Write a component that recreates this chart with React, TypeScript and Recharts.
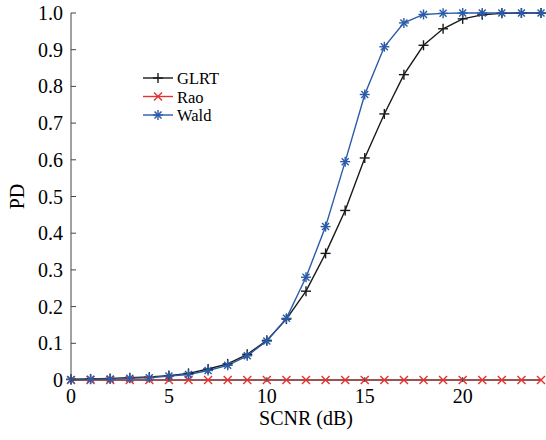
import React from "react";
import { LineChart, Line, XAxis, YAxis } from "recharts";

const snr = [0, 1, 2, 3, 4, 5, 6, 7, 8, 9, 10, 11, 12, 13, 14, 15, 16, 17, 18, 19, 20, 21, 22, 23, 24];
const glrt = [0.002, 0.003, 0.004, 0.006, 0.008, 0.012, 0.018, 0.03, 0.044, 0.07, 0.108, 0.166, 0.242, 0.345, 0.462, 0.605, 0.725, 0.832, 0.912, 0.957, 0.984, 0.995, 0.999, 1, 1];
const rao = [0, 0, 0, 0, 0, 0, 0, 0, 0, 0, 0, 0, 0, 0, 0, 0, 0, 0, 0, 0, 0, 0, 0, 0, 0];
const wald = [0.001, 0.002, 0.003, 0.005, 0.006, 0.011, 0.015, 0.026, 0.04, 0.066, 0.106, 0.168, 0.28, 0.418, 0.595, 0.778, 0.908, 0.973, 0.996, 0.999, 1, 1, 1, 1, 1];

const xTicks = [0, 5, 10, 15, 20];
const yTicks = [0, 0.1, 0.2, 0.3, 0.4, 0.5, 0.6, 0.7, 0.8, 0.9, 1.0];
const yTickLabels = ["0", "0.1", "0.2", "0.3", "0.4", "0.5", "0.6", "0.7", "0.8", "0.9", "1.0"];

const data = snr.map((x, i) => ({ snr: x, glrt: glrt[i], rao: rao[i], wald: wald[i] }));

const FONT = "Liberation Serif, Times New Roman, serif";
const BLACK = "#1a1a1a";
const RED = "#e8312f";
const BLUE = "#2a5ba8";
const FRAME = "#444";
const TICK = 5;

const Plus = ({ cx, cy, color, r = 5 }: any) => (
  <g stroke={color} strokeWidth={1.4}>
    <line x1={cx - r} y1={cy} x2={cx + r} y2={cy} />
    <line x1={cx} y1={cy - r} x2={cx} y2={cy + r} />
  </g>
);

const Cross = ({ cx, cy, color, r = 4 }: any) => (
  <g stroke={color} strokeWidth={1.4}>
    <line x1={cx - r} y1={cy - r} x2={cx + r} y2={cy + r} />
    <line x1={cx - r} y1={cy + r} x2={cx + r} y2={cy - r} />
  </g>
);

const Star = ({ cx, cy, color, r = 5 }: any) => (
  <g stroke={color} strokeWidth={1.4}>
    <line x1={cx - r} y1={cy} x2={cx + r} y2={cy} />
    <line x1={cx} y1={cy - r} x2={cx} y2={cy + r} />
    <line x1={cx - r * 0.7} y1={cy - r * 0.7} x2={cx + r * 0.7} y2={cy + r * 0.7} />
    <line x1={cx - r * 0.7} y1={cy + r * 0.7} x2={cx + r * 0.7} y2={cy - r * 0.7} />
  </g>
);

const txt = { fontFamily: FONT, fontSize: 20 };

const BottomTick = ({ x, y, payload }: any) => (
  <g>
    <line x1={x} y1={y - 8} x2={x} y2={y - 8 - TICK} stroke={FRAME} />
    <text x={x} y={y + 13} textAnchor="middle" style={txt} fill="#000">
      {payload.value}
    </text>
  </g>
);

const TopTick = ({ x, y }: any) => (
  <line x1={x} y1={y} x2={x} y2={y + TICK} stroke={FRAME} />
);

const LeftTick = ({ x, y, payload, index }: any) => (
  <g>
    <line x1={x + 8} y1={y} x2={x + 8 + TICK} y2={y} stroke={FRAME} />
    <text x={x} y={y + 7} textAnchor="end" style={txt} fill="#000">
      {yTickLabels[index] ?? payload.value}
    </text>
  </g>
);

const RightTick = ({ x, y }: any) => (
  <line x1={x} y1={y} x2={x - TICK} y2={y} stroke={FRAME} />
);

const legendItems = [
  { name: "GLRT", color: BLACK, Mark: Plus },
  { name: "Rao", color: RED, Mark: Cross },
  { name: "Wald", color: BLUE, Mark: Star },
];

const LegendBox = () => (
  <svg width={100} height={60} style={{ position: "absolute", left: 140, top: 67 }}>
    {legendItems.map((it, i) => {
      const cy = 11 + i * 18.5;
      const M = it.Mark;
      return (
        <g key={it.name}>
          <line x1={3} y1={cy} x2={33} y2={cy} stroke={it.color} strokeWidth={1.4} />
          <M cx={18} cy={cy} color={it.color} />
          <text x={37} y={cy + 6} style={{ fontFamily: FONT, fontSize: 16.5 }} fill="#000">
            {it.name}
          </text>
        </g>
      );
    })}
  </svg>
);

export default function App() {
  return (
    <div style={{ position: "absolute", left: 0, top: 0, width: 546, height: 440, background: "#fff", fontFamily: FONT }}>
      <LineChart width={546} height={440} data={data} margin={{ top: 13, right: 5, bottom: 0, left: 0 }}>
        <XAxis
          xAxisId="b"
          dataKey="snr"
          type="number"
          domain={[0, 24]}
          ticks={xTicks}
          tickLine={false}
          tickSize={8}
          tick={<BottomTick />}
          stroke={FRAME}
          height={60}
          label={{ value: "SCNR (dB)", position: "insideBottom", offset: 15, style: txt, fill: "#000" }}
        />
        <XAxis
          xAxisId="t"
          dataKey="snr"
          type="number"
          orientation="top"
          domain={[0, 24]}
          ticks={xTicks}
          tickLine={false}
          tickSize={0}
          tickMargin={0}
          tick={<TopTick />}
          stroke={FRAME}
          height={0}
        />
        <YAxis
          yAxisId="l"
          type="number"
          domain={[0, 1]}
          ticks={yTicks}
          tickLine={false}
          tickSize={8}
          tickMargin={0}
          tick={<LeftTick />}
          stroke={FRAME}
          width={71}
          label={{ value: "PD", angle: -90, position: "insideLeft", offset: 17, style: { ...txt, textAnchor: "middle" }, fill: "#000" }}
        />
        <YAxis
          yAxisId="r"
          type="number"
          orientation="right"
          domain={[0, 1]}
          ticks={yTicks}
          tickLine={false}
          tickSize={0}
          tickMargin={0}
          tick={<RightTick />}
          stroke={FRAME}
          width={0}
        />
        <Line
          xAxisId="b"
          yAxisId="l"
          dataKey="glrt"
          name="GLRT"
          stroke={BLACK}
          strokeWidth={1.4}
          isAnimationActive={false}
          dot={(p: any) => <Plus key={p.index} cx={p.cx} cy={p.cy} color={BLACK} />}
        />
        <Line
          xAxisId="b"
          yAxisId="l"
          dataKey="rao"
          name="Rao"
          stroke={RED}
          strokeWidth={1.6}
          isAnimationActive={false}
          dot={(p: any) => <Cross key={p.index} cx={p.cx} cy={p.cy} color={RED} />}
        />
        <Line
          xAxisId="b"
          yAxisId="l"
          dataKey="wald"
          name="Wald"
          stroke={BLUE}
          strokeWidth={1.4}
          isAnimationActive={false}
          dot={(p: any) => <Star key={p.index} cx={p.cx} cy={p.cy} color={BLUE} />}
        />
      </LineChart>
      <LegendBox />
    </div>
  );
}
